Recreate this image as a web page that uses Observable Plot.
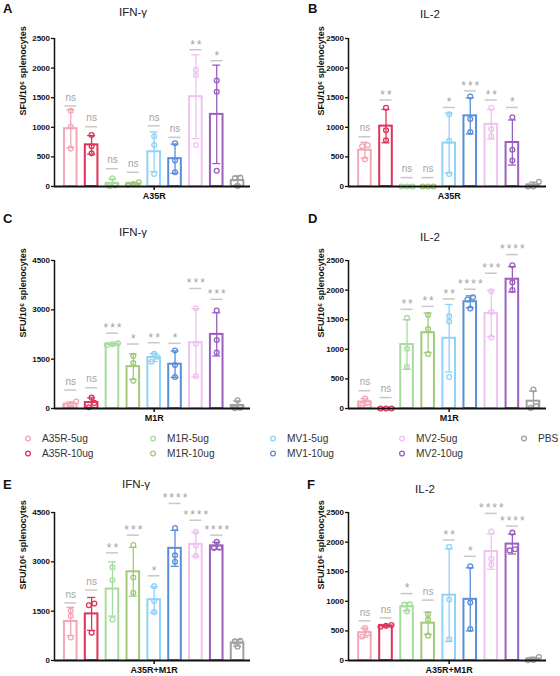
<!DOCTYPE html>
<html>
<head>
<meta charset="utf-8">
<script src="https://cdn.jsdelivr.net/npm/d3@7"></script>
<script src="https://cdn.jsdelivr.net/npm/@observablehq/plot@0.6"></script>
<style>
  body { margin: 0; background: #fff; font-family: "Liberation Sans", Arial, sans-serif; }
  #fig { position: relative; width: 560px; height: 676px; overflow: hidden; background: #fff; }
  #fig > svg { position: absolute; }
  .letter { position: absolute; font-weight: bold; font-size: 13px; line-height: 1; color: #111; }
  .title { position: absolute; font-size: 11.5px; line-height: 1; color: #222; transform: translate(-50%, -50%); white-space: nowrap; }
  .lg { position: absolute; display: flex; align-items: center; transform: translateY(-50%); font-size: 10.2px; color: #333; white-space: nowrap; }
  #fig .lg svg { position: static; display: block; margin-right: 10px; }
</style>
</head>
<body>
<div id="fig"></div>
<script>
// Vaccine groups, in plotting order
const groups = ["A35R-5ug", "A35R-10ug", "M1R-5ug", "M1R-10ug", "MV1-5ug", "MV1-10ug", "MV2-5ug", "MV2-10ug", "PBS"];
const groupColors = ["#f4a6b7", "#e0325a", "#a8dba0", "#a3c97b", "#8fd3f7", "#5a8ed8", "#eec2f1", "#9a5fbf", "#a0a0a0"];

// ELISpot counts (SFU/10^6 splenocytes), three mice per group
// A: IFN-γ, A35R peptide
const ifnA35R = [[1280, 1010, 640], [870, 680, 560], [140, 15, 5], [70, 40, 30], [850, 700, 210], [730, 440, 240], [1970, 1880, 700], [1790, 1600, 265], [150, 140, 10]];
const ifnA35RSig = ["ns", "ns", "ns", "ns", "ns", "ns", "**", "*", ""];
const ifnA35RSigAt = [1360, 1010, 300, 240, 1025, 830, 2310, 2125, null];

// B: IL-2, A35R peptide
const il2A35R = [[700, 680, 460], [1330, 950, 780], [0, 0, 0], [0, 0, 0], [1220, 770, 210], [1520, 1140, 920], [1330, 970, 850], [1170, 620, 440], [80, 0, 0]];
const il2A35RSig = ["ns", "**", "ns", "ns", "*", "***", "**", "*", ""];
const il2A35RSigAt = [840, 1460, 150, 150, 1335, 1615, 1460, 1335, null];

// C: IFN-γ, M1R peptide
const ifnM1R = [[210, 120, 80], [330, 170, 40], [1980, 1930, 1950], [1600, 1380, 840], [1660, 1570, 1420], [1760, 1320, 960], [3050, 1970, 980], [2980, 2080, 1700], [250, 20, 10]];
const ifnM1RSig = ["ns", "ns", "***", "*", "**", "*", "***", "***", ""];
const ifnM1RSigAt = [560, 630, 2290, 1960, 2000, 1980, 3650, 3320, null];

// D: IL-2, M1R peptide
const il2M1R = [[170, 100, 60], [0, 0, 0], [1530, 1010, 700], [1580, 1340, 920], [1560, 1470, 530], [1880, 1840, 1690], [1980, 1630, 1200], [2420, 2130, 2000], [320, 40, 10]];
const il2M1RSig = ["ns", "ns", "**", "**", "**", "****", "***", "****", ""];
const il2M1RSigAt = [300, 185, 1675, 1725, 1850, 2015, 2285, 2600, null];

// E: IFN-γ, A35R+M1R peptides
const ifnBoth = [[1510, 1350, 700], [1730, 1680, 840], [2830, 2440, 1250], [3510, 2520, 2060], [2260, 1810, 1470], [4030, 3200, 3000], [3910, 3500, 3180], [3610, 3430, 3420], [600, 580, 420]];
const ifnBothSig = ["ns", "ns", "**", "***", "*", "****", "****", "****", ""];
const ifnBothSigAt = [1750, 2140, 3275, 3810, 2575, 4775, 4265, 3810, null];

// F: IL-2, A35R+M1R peptides
const il2Both = [[550, 460, 400], [600, 585, 570], [950, 945, 830], [780, 690, 420], [1920, 1030, 360], [1590, 980, 530], [2180, 1720, 1620], [2160, 1880, 1860], [60, 10, 5]];
const il2BothSig = ["ns", "ns", "*", "ns", "**", "*", "****", "****", ""];
const il2BothSigAt = [670, 720, 1130, 1020, 2035, 1760, 2485, 2270, null];

const ticks2500 = [0, 500, 1000, 1500, 2000, 2500];
const ticks4500 = [0, 1500, 3000, 4500];
const yLabel = "SFU/10⁶ splenocytes";

const fig = document.getElementById("fig");
const FONT = "'Liberation Sans', Arial, sans-serif";

function panel({letter, title, antigen, points, sig, sigAt, ymax, yTicks, side, top, letterPos, titlePos}) {
  const left = side === "left" ? 0 : 280;
  const width = side === "left" ? 260 : 280;
  const marginLeft = side === "left" ? 54 : 68;
  const marginRight = side === "left" ? 10 : 14;
  const frameTop = top.frameTop - top.svg;
  const height = top.height;
  const marginBottom = height - (top.frameBottom - top.svg);
  const xDomain = [-0.78, 8.62];
  const plotH = top.frameBottom - top.frameTop;
  const pxPerUnit = plotH / ymax;
  const pxPerBand = (width - marginLeft - marginRight) / (xDomain[1] - xDomain[0]);

  const summary = points.map((vals, i) => ({
    i, mean: d3.mean(vals), sd: d3.deviation(vals), color: groupColors[i]
  }));

  // spread overlapping replicate dots side by side
  const dots = [];
  points.forEach((vals, i) => {
    const sorted = vals.map(v => ({v})).sort((a, b) => a.v - b.v);
    const clusters = [];
    for (const d of sorted) {
      const c = clusters[clusters.length - 1];
      if (c && (d.v - c[0].v) * pxPerUnit < 5) c.push(d); else clusters.push([d]);
    }
    for (const c of clusters) {
      c.forEach((d, j) => {
        const off = (j - (c.length - 1) / 2) * 5.5;
        dots.push({i, v: d.v, x: i + off / pxPerBand, color: groupColors[i]});
      });
    }
  });

  const sigs = sig.map((label, i) => ({i, label, at: sigAt[i]})).filter(d => d.label);
  const capHalf = 4 / pxPerBand;
  const barHalf = 6.3 / pxPerBand;
  const sigHalf = 6 / pxPerBand;

  const svg = Plot.plot({
    width, height, marginLeft, marginRight, marginTop: frameTop, marginBottom,
    style: {background: "transparent", overflow: "visible", fontFamily: FONT},
    x: {domain: xDomain},
    y: {domain: [0, ymax]},
    color: {type: "identity"},
    marks: [
      Plot.rect(summary, {x1: d => d.i - barHalf, x2: d => d.i + barHalf, y1: 0, y2: "mean", stroke: "color", fill: "white", strokeWidth: 2}),
      Plot.ruleX(summary.filter(d => d.sd > 0), {x: "i", y1: d => Math.max(0, d.mean - d.sd), y2: d => d.mean + d.sd, stroke: "color", strokeWidth: 1.3}),
      Plot.ruleY(summary.filter(d => d.sd > 0), {y: d => d.mean + d.sd, x1: d => d.i - capHalf, x2: d => d.i + capHalf, stroke: "color", strokeWidth: 1.3}),
      Plot.ruleY(summary.filter(d => d.sd > 0 && d.mean - d.sd > 0), {y: d => d.mean - d.sd, x1: d => d.i - capHalf, x2: d => d.i + capHalf, stroke: "color", strokeWidth: 1.3}),
      Plot.dot(dots, {x: "x", y: "v", r: 2.4, stroke: "color", strokeWidth: 1.3, fill: "none"}),
      Plot.ruleY(sigs, {y: "at", x1: d => d.i - sigHalf, x2: d => d.i + sigHalf, stroke: "#c8c8c8", strokeWidth: 1.5}),
      Plot.text(sigs.filter(d => d.label === "ns"), {x: "i", y: "at", text: "label", dy: -8.5, fill: "#a3a3a3", fontSize: 10}),
      Plot.text(sigs.filter(d => d.label !== "ns"), {x: "i", y: "at", text: "label", dy: -5, dx: 1, fill: "#a3a3a3", fontSize: 12}),
      Plot.ruleY([0], {stroke: "#111", strokeWidth: 2}),
      Plot.ruleX([xDomain[0]], {y1: 0, y2: ymax, stroke: "#111", strokeWidth: 1.5}),
      Plot.axisY({ticks: yTicks, tickSize: 3, tickPadding: 1.5, fontSize: 8, fontWeight: "bold", fill: "#111", stroke: "#111", strokeWidth: 1.3, label: null, tickFormat: d => String(d)}),
      Plot.axisX({ticks: [4], tickSize: 4, tickPadding: 2, fontSize: 9, fontWeight: "bold", fill: "#111", stroke: "#111", strokeWidth: 1.5, label: null, tickFormat: () => antigen}),
      Plot.text([yLabel], {text: d => d, frameAnchor: "left", rotate: -90, dx: side === "left" ? -31 : -27, dy: 3, fontSize: 9, fontWeight: "bold", fill: "#111"})
    ]
  });
  svg.style.left = left + "px";
  svg.style.top = top.svg + "px";
  svg.querySelectorAll("text").forEach(t => {
    if (/^\*+$/.test(t.textContent)) t.setAttribute("letter-spacing", "2px");
  });
  fig.appendChild(svg);

  const L = document.createElement("div");
  L.className = "letter";
  L.textContent = letter;
  L.style.left = letterPos[0] + "px";
  L.style.top = letterPos[1] + "px";
  fig.appendChild(L);

  const T = document.createElement("div");
  T.className = "title";
  T.textContent = title;
  T.style.left = titlePos[0] + "px";
  T.style.top = titlePos[1] + "px";
  fig.appendChild(T);
}

const rowTop = {svg: 0, height: 210, frameTop: 38, frameBottom: 186};
const rowMid = {svg: 230, height: 200, frameTop: 260, frameBottom: 408};
const rowBot = {svg: 480, height: 196, frameTop: 512, frameBottom: 660};

panel({letter: "A", title: "IFN-γ", antigen: "A35R", points: ifnA35R, sig: ifnA35RSig, sigAt: ifnA35RSigAt, ymax: 2500, yTicks: ticks2500, side: "left", top: rowTop, letterPos: [3, 1.5], titlePos: [133, 13]});
panel({letter: "B", title: "IL-2", antigen: "A35R", points: il2A35R, sig: il2A35RSig, sigAt: il2A35RSigAt, ymax: 2500, yTicks: ticks2500, side: "right", top: rowTop, letterPos: [308, 1.5], titlePos: [430, 15]});
panel({letter: "C", title: "IFN-γ", antigen: "M1R", points: ifnM1R, sig: ifnM1RSig, sigAt: ifnM1RSigAt, ymax: 4500, yTicks: ticks4500, side: "left", top: rowMid, letterPos: [3, 211.5], titlePos: [133, 233]});
panel({letter: "D", title: "IL-2", antigen: "M1R", points: il2M1R, sig: il2M1RSig, sigAt: il2M1RSigAt, ymax: 2500, yTicks: ticks2500, side: "right", top: rowMid, letterPos: [308, 211.5], titlePos: [430, 238]});
panel({letter: "E", title: "IFN-γ", antigen: "A35R+M1R", points: ifnBoth, sig: ifnBothSig, sigAt: ifnBothSigAt, ymax: 4500, yTicks: ticks4500, side: "left", top: rowBot, letterPos: [3, 477.5], titlePos: [136, 485]});
panel({letter: "F", title: "IL-2", antigen: "A35R+M1R", points: il2Both, sig: il2BothSig, sigAt: il2BothSigAt, ymax: 2500, yTicks: ticks2500, side: "right", top: rowBot, letterPos: [307, 477.5], titlePos: [425, 490]});

// Shared legend between the middle and bottom rows
const legendCols = [28, 153, 273, 402, 524];
const legendRows = [438, 453];
groups.forEach((g, k) => {
  const col = Math.floor(k / 2), row = k % 2;
  const item = document.createElement("div");
  item.className = "lg";
  item.style.left = (legendCols[col] - 4) + "px";
  item.style.top = legendRows[row] + "px";
  item.innerHTML = `<svg width="8" height="8"><circle cx="4" cy="4" r="2.4" fill="none" stroke="${groupColors[k]}" stroke-width="1.3"/></svg><span>${g}</span>`;
  fig.appendChild(item);
});
</script>
</body>
</html>
